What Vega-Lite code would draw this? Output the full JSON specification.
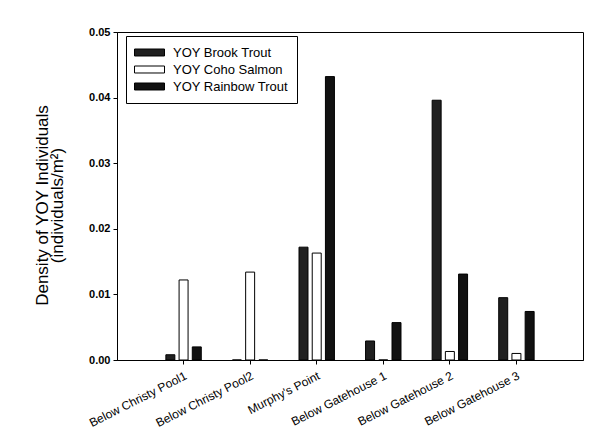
{
  "$schema": "https://vega.github.io/schema/vega-lite/v6.json",
  "width": 466,
  "height": 328,
  "autosize": {"type": "none"},
  "padding": {"left": 117, "top": 32, "right": 12, "bottom": 71},
  "background": "white",
  "config": {
    "view": {"stroke": "black", "strokeWidth": 1},
    "font": "Liberation Sans"
  },
  "data": {
    "values": [
      {"site": "Below Christy Pool1", "species": "YOY Brook Trout", "density": 0.0008},
      {"site": "Below Christy Pool1", "species": "YOY Coho Salmon", "density": 0.0122},
      {"site": "Below Christy Pool1", "species": "YOY Rainbow Trout", "density": 0.002},
      {"site": "Below Christy Pool2", "species": "YOY Brook Trout", "density": 0},
      {"site": "Below Christy Pool2", "species": "YOY Coho Salmon", "density": 0.0134},
      {"site": "Below Christy Pool2", "species": "YOY Rainbow Trout", "density": 0},
      {"site": "Murphy's Point", "species": "YOY Brook Trout", "density": 0.0172},
      {"site": "Murphy's Point", "species": "YOY Coho Salmon", "density": 0.0163},
      {"site": "Murphy's Point", "species": "YOY Rainbow Trout", "density": 0.0432},
      {"site": "Below Gatehouse 1", "species": "YOY Brook Trout", "density": 0.0029},
      {"site": "Below Gatehouse 1", "species": "YOY Coho Salmon", "density": 0},
      {"site": "Below Gatehouse 1", "species": "YOY Rainbow Trout", "density": 0.0057},
      {"site": "Below Gatehouse 2", "species": "YOY Brook Trout", "density": 0.0396},
      {"site": "Below Gatehouse 2", "species": "YOY Coho Salmon", "density": 0.0013},
      {"site": "Below Gatehouse 2", "species": "YOY Rainbow Trout", "density": 0.0131},
      {"site": "Below Gatehouse 3", "species": "YOY Brook Trout", "density": 0.0095},
      {"site": "Below Gatehouse 3", "species": "YOY Coho Salmon", "density": 0.001},
      {"site": "Below Gatehouse 3", "species": "YOY Rainbow Trout", "density": 0.0074}
    ]
  },
  "mark": {"type": "bar", "stroke": "black", "strokeWidth": 1},
  "encoding": {
    "x": {
      "field": "site",
      "type": "nominal",
      "sort": null,
      "scale": {"paddingInner": 0.468, "paddingOuter": 0.734},
      "axis": {
        "title": null,
        "labelAngle": -27,
        "labelAlign": "right",
        "labelBaseline": "top",
        "labelFontSize": 12,
        "labelPadding": 6,
        "labelColor": "black",
        "tickSize": 4,
        "tickColor": "black",
        "domainColor": "black"
      }
    },
    "xOffset": {
      "field": "species",
      "sort": ["YOY Brook Trout", "YOY Coho Salmon", "YOY Rainbow Trout"],
      "scale": {"paddingInner": 0.32, "paddingOuter": 0}
    },
    "y": {
      "field": "density",
      "type": "quantitative",
      "scale": {"domain": [0, 0.05]},
      "axis": {
        "values": [0, 0.01, 0.02, 0.03, 0.04, 0.05],
        "format": ".2f",
        "grid": false,
        "tickSize": 4,
        "tickColor": "black",
        "domainColor": "black",
        "labelFontSize": 11,
        "labelFontWeight": "bold",
        "labelColor": "black",
        "labelPadding": 3,
        "title": ["Density of YOY Individuals", "(individuals/m²)"],
        "titleFontSize": 17,
        "titleLineHeight": 15,
        "titleFontWeight": "normal",
        "titleColor": "black",
        "titlePadding": 22,
        "titleY": 173
      }
    },
    "color": {
      "field": "species",
      "type": "nominal",
      "scale": {
        "domain": ["YOY Brook Trout", "YOY Coho Salmon", "YOY Rainbow Trout"],
        "range": ["#202020", "#ffffff", "#111111"]
      },
      "legend": {
        "orient": "none",
        "legendX": 9,
        "legendY": 4,
        "title": null,
        "fillColor": "white",
        "strokeColor": "black",
        "padding": 8,
        "symbolType": "M-1,-0.233H1V0.233H-1Z",
        "symbolSize": 900,
        "symbolStrokeColor": "black",
        "symbolStrokeWidth": 1,
        "labelFontSize": 13,
        "labelOffset": 8,
        "labelColor": "black",
        "labelLimit": 200,
        "clipHeight": 17,
        "rowPadding": 0
      }
    }
  }
}
